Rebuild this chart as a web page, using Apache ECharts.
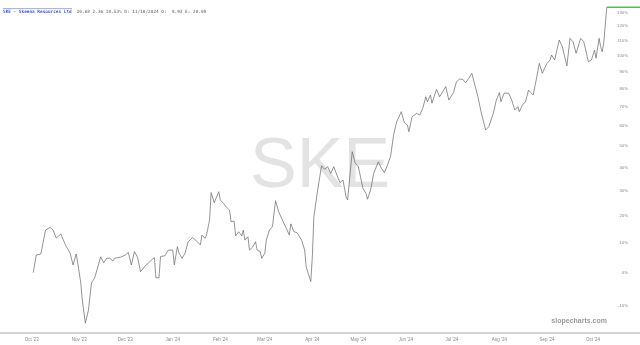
<!DOCTYPE html>
<html><head><meta charset="utf-8">
<script src="https://cdn.jsdelivr.net/npm/echarts@6/dist/echarts.min.js"></script>
<style>html,body{margin:0;padding:0;background:#fff}#c{width:640px;height:345px}</style>
</head><body><div id="c"></div>
<script>
const dates = ['2023-10-02','2023-10-04','2023-10-05','2023-10-07','2023-10-10','2023-10-13','2023-10-15','2023-10-17','2023-10-20','2023-10-21','2023-10-23','2023-10-26','2023-10-28','2023-10-30','2023-10-31','2023-11-02','2023-11-03','2023-11-05','2023-11-07','2023-11-09','2023-11-11','2023-11-12','2023-11-15','2023-11-17','2023-11-19','2023-11-21','2023-11-23','2023-11-24','2023-11-28','2023-12-01','2023-12-03','2023-12-05','2023-12-07','2023-12-09','2023-12-11','2023-12-12','2023-12-14','2023-12-16','2023-12-18','2023-12-20','2023-12-21','2023-12-23','2023-12-24','2023-12-27','2023-12-29','2024-01-01','2024-01-02','2024-01-04','2024-01-05','2024-01-07','2024-01-09','2024-01-11','2024-01-14','2024-01-17','2024-01-19','2024-01-20','2024-01-22','2024-01-23','2024-01-25','2024-01-26','2024-01-28','2024-01-31','2024-02-01','2024-02-03','2024-02-05','2024-02-07','2024-02-08','2024-02-10','2024-02-11','2024-02-13','2024-02-15','2024-02-16','2024-02-17','2024-02-19','2024-02-20','2024-02-22','2024-02-24','2024-02-25','2024-02-27','2024-02-28','2024-03-01','2024-03-02','2024-03-04','2024-03-06','2024-03-08','2024-03-09','2024-03-10','2024-03-13','2024-03-15','2024-03-17','2024-03-18','2024-03-20','2024-03-22','2024-03-25','2024-03-27','2024-03-28','2024-03-29','2024-03-31','2024-04-01','2024-04-02','2024-04-04','2024-04-05','2024-04-07','2024-04-09','2024-04-11','2024-04-13','2024-04-15','2024-04-17','2024-04-19','2024-04-21','2024-04-23','2024-04-24','2024-04-27','2024-04-29','2024-05-01','2024-05-02','2024-05-04','2024-05-06','2024-05-07','2024-05-09','2024-05-11','2024-05-14','2024-05-16','2024-05-18','2024-05-20','2024-05-22','2024-05-24','2024-05-26','2024-05-27','2024-05-29','2024-05-31','2024-06-02','2024-06-03','2024-06-05','2024-06-08','2024-06-10','2024-06-12','2024-06-14','2024-06-15','2024-06-17','2024-06-18','2024-06-21','2024-06-23','2024-06-25','2024-06-27','2024-06-29','2024-07-02','2024-07-04','2024-07-06','2024-07-08','2024-07-10','2024-07-12','2024-07-14','2024-07-16','2024-07-18','2024-07-20','2024-07-21','2024-07-23','2024-07-25','2024-07-28','2024-07-30','2024-08-01','2024-08-02','2024-08-04','2024-08-07','2024-08-09','2024-08-11','2024-08-13','2024-08-14','2024-08-16','2024-08-18','2024-08-20','2024-08-23','2024-08-25','2024-08-27','2024-08-29','2024-09-01','2024-09-03','2024-09-04','2024-09-06','2024-09-07','2024-09-09','2024-09-11','2024-09-14','2024-09-16','2024-09-18','2024-09-20','2024-09-22','2024-09-23','2024-09-25','2024-09-26','2024-09-28','2024-09-30','2024-10-02','2024-10-03','2024-10-05','2024-10-06','2024-10-07','2024-10-08','2024-10-10'];
const pctChange = [0,5.8,6.2,6.2,14.6,15.6,14.6,11.7,13.2,12.8,9.3,6.5,2.5,6.2,3.2,-3.2,-8.4,-14.9,-11.3,-3.2,-1.7,-0.1,5.2,3.2,4.8,4.7,3.8,4.7,5.1,5.8,6.7,2.5,7.0,5.1,0.3,0.9,2.2,3.1,4.1,4.9,-1.6,-1.6,5.3,5.6,7.5,7.5,2.5,8.7,6.6,4.7,6.4,10.4,11.9,10.4,9.3,12.8,11.6,12.8,18.4,29.2,25.1,29.6,26.2,24.9,23.3,22.2,17.7,18.0,12.5,14.0,12.5,14.6,11.0,12.2,7.5,8.5,10.4,7.5,7.0,4.7,6.4,11.0,14.6,15.9,25.9,25.1,21.6,17.7,15.3,12.8,16.9,14.0,13.7,11.0,7.5,1.9,1.4,-2.8,5.3,19.6,28.2,32.4,40.8,39.2,40.4,37.4,40.4,36.7,33.4,34.5,27.5,26.2,47.3,41.9,40.4,40.7,31.0,28.9,26.5,30.3,37.4,42.6,39.7,37.7,41.1,45.0,55.4,62.1,61.3,67.4,61.6,60.4,57.0,64.7,66.5,65.6,69.2,75.6,72.8,76.6,72.0,79.8,75.6,78.5,81.4,73.8,77.9,84.3,85.8,85.7,83.7,86.3,89.3,82.3,75.6,67.4,68.3,57.9,59.5,66.5,73.8,77.9,72.8,77.6,77.6,73.8,68.3,70.1,67.4,71.0,72.8,79.4,76.6,85.3,95.4,89.3,95.4,97.5,100.7,97.5,101.8,110.6,106.1,93.8,111.7,109.4,101.8,108.4,111.7,109.4,108.4,96.5,97.5,103.9,98.6,111.7,106.1,102.8,108.4,133.8];
const lastDates = ['2024-10-10','2024-11-05'];
const lastValues = [133.8,133.8];
const xTickDates = ['2023-10-01','2023-11-01','2023-12-01','2024-01-01','2024-02-01','2024-03-01','2024-04-01','2024-05-01','2024-06-01','2024-07-01','2024-08-01','2024-09-01','2024-10-01'];
const xTickLabels = ["Oct '23","Nov '23","Dec '23","Jan '24","Feb '24","Mar '24","Apr '24","May '24","Jun '24","Jul '24","Aug '24","Sep '24","Oct '24"];
const yTickPercents = [-10,0,10,20,30,40,50,60,70,80,90,100,110,120,130];

const T = d => Date.parse(d + (d.length === 10 ? 'T00:00:00Z' : 'Z'));
const xTickTimes = xTickDates.map(T);
const lvl = p => 100 + p;
const chart = echarts.init(document.getElementById('c'), null, {renderer:'canvas'});
chart.setOption({
  animation: false,
  backgroundColor: '#fff',
  grid: {left: 0, right: 0, top: 2, bottom: 12, containLabel: false},
  title: {
    left: 3, top: 3, padding: 0,
    text: '{a|SKE - Skeena Resources Ltd} {b|20.68 2.36 10.53% D: 11/18/2024 O:  8.93 E: 20.09}',
    textStyle: {rich: {
      a: {fontFamily: 'DejaVu Sans Mono', fontSize: 4.4, fontWeight: 'bold', color: '#4455dd'},
      b: {fontFamily: 'DejaVu Sans Mono', fontSize: 4.4, color: '#8a8a8a'}
    }}
  },
  graphic: [
    {type: 'line', silent: true, shape: {x1: 3, y1: 8.6, x2: 72, y2: 8.6}, style: {stroke: '#4455dd', lineWidth: 0.5}},
    {type: 'text', left: 'center', top: 133, silent: true, z: -1,
     style: {text: 'SKE', fontFamily: 'Liberation Sans', fontSize: 70, fill: '#e3e3e3'}},
    {type: 'text', right: 33, top: 318, silent: true,
     style: {text: 'slopecharts.com', fontFamily: 'Liberation Sans', fontSize: 7, fontWeight: 'bold', fill: '#9a9a9a'}}
  ],
  xAxis: {
    type: 'value', scale: true,
    min: T('2023-09-10T08:00:00'), max: T('2024-10-31T16:00:00'),
    axisLine: {show: true, onZero: false, lineStyle: {color: '#d4d4d4', width: 2}},
    axisTick: {show: false},
    splitLine: {show: false},
    axisLabel: {
      customValues: xTickTimes,
      hideOverlap: false, showMinLabel: true, showMaxLabel: true,
      fontSize: 4.5, color: '#888', margin: 4, fontFamily: 'Liberation Sans',
      formatter: v => { const i = xTickTimes.indexOf(+v); return i >= 0 ? xTickLabels[i] : ''; }
    }
  },
  yAxis: {
    type: 'log', logBase: 10, position: 'right',
    min: 82.45, max: 237.8,
    axisLine: {show: false}, axisTick: {show: false}, splitLine: {show: false},
    axisLabel: {
      inside: true, margin: 12, align: 'right',
      customValues: yTickPercents.map(lvl),
      fontSize: 4.3, color: '#888', fontFamily: 'Liberation Sans',
      formatter: v => Math.round(v - 100) + '%'
    }
  },
  series: [
    {type: 'line', showSymbol: false, symbol: 'none', clip: true,
     lineStyle: {color: '#666', width: 0.7},
     data: dates.map((d, i) => [T(d), lvl(pctChange[i])])},
    {type: 'line', showSymbol: false, symbol: 'none', clip: true,
     lineStyle: {color: '#5cb85c', width: 1.4},
     data: lastDates.map((d, i) => [T(d), lvl(lastValues[i])])}
  ]
});
</script></body></html>
